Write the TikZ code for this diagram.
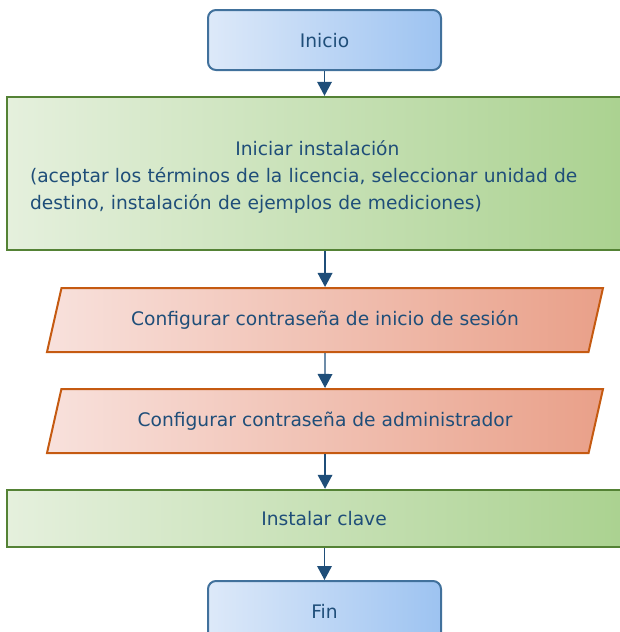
\documentclass[tikz,border=0pt]{standalone}
\usepackage{fontspec}
\setmainfont{DejaVu Sans}
\usetikzlibrary{arrows.meta,shapes.geometric}
\definecolor{txtblue}{HTML}{1F4E79}
\definecolor{termline}{HTML}{41719C}
\definecolor{termleft}{HTML}{DDE9F9}
\definecolor{termright}{HTML}{9DC3F1}
\definecolor{procline}{HTML}{548235}
\definecolor{procleft}{HTML}{E5F0DD}
\definecolor{procright}{HTML}{A9D18E}
\definecolor{ioline}{HTML}{C55A11}
\definecolor{ioleft}{HTML}{F8E1DC}
\definecolor{ioright}{HTML}{E9A089}

\begin{document}
\begin{tikzpicture}[
  x=0.75pt, y=-0.75pt,
  every node/.style={font=\fontsize{14}{20}\selectfont, text=txtblue},
  terminal/.style={draw=termline, line width=1.5pt, rounded corners=6pt,
                   left color=termleft, right color=termright,
                   minimum width=174.75pt, minimum height=45pt},
  process/.style={draw=procline, line width=1.8pt,
                  left color=procleft, right color=procright,
                  minimum width=475.5pt},
  inputbox/.style={trapezium, trapezium left angle=77, trapezium right angle=103,
                   trapezium stretches body=true, draw=ioline, line width=1.5pt,
                   left color=ioleft, right color=ioright, inner ysep=16.5pt,
                   minimum width=417pt, minimum height=48pt},
  flow/.style={-{Triangle[length=10.5pt, width=11pt]}, line width=1pt, draw=txtblue}
]
  \useasboundingbox (0,0) rectangle (620,632);

  % --- Steps (top to bottom) ---
  \node[terminal] (inicio) at (324.5,40) {\rule{0pt}{12pt}Inicio};
  \node[process, minimum height=114.75pt, text width=441pt, align=left]
    (instalar) at (324,173.5)
    {\rule{0pt}{16.6pt}\hspace*{154pt}Iniciar instalación\\
     (aceptar los términos de la licencia, seleccionar unidad de\\
     destino, instalación de ejemplos de mediciones)};
  \node[inputbox] (sesion) at (325,320)
    {Configurar contraseña de inicio de sesión};
  \node[inputbox] (admin) at (325,421)
    {Configurar contraseña de administrador};
  \node[process, minimum height=42.75pt] (clave) at (324,518.5) {Instalar clave};
  \node[terminal] (fin) at (324.5,611) {Fin};

  % --- Flow arrows ---
  \draw[flow] (inicio.south) -- (inicio.south |- instalar.north);
  \draw[flow] (sesion.north |- instalar.south) -- (sesion.north);
  \draw[flow] (sesion) -- (admin);
  \draw[flow] (admin.south) -- (admin.south |- clave.north);
  \draw[flow] (clave.south -| fin) -- (fin.north);

\end{tikzpicture}
\end{document}
